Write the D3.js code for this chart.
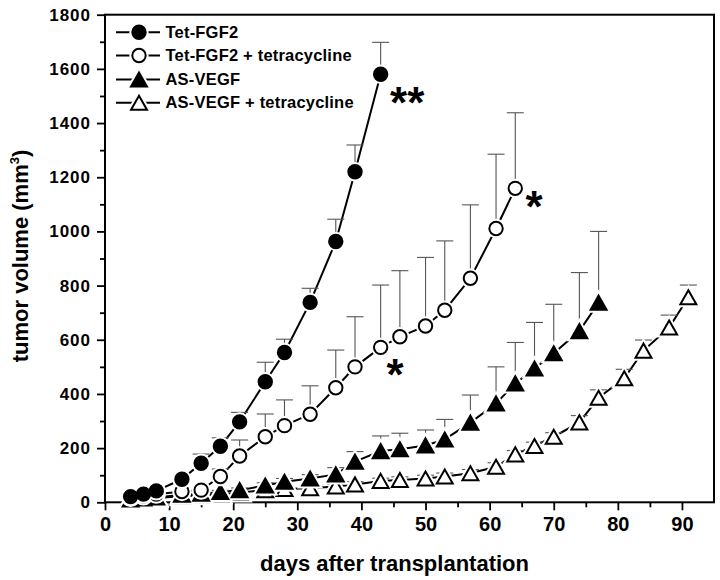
<!DOCTYPE html>
<html>
<head>
<meta charset="utf-8">
<script src="https://cdn.jsdelivr.net/npm/d3@7"></script>
<style>
  html, body { margin: 0; padding: 0; background: #fff; }
  svg { display: block; font-family: "Liberation Sans", Arial, Helvetica, sans-serif; font-weight: bold; }
</style>
</head>
<body>
<svg id="chart" width="720" height="580"></svg>
<script>
// ---------------- data ----------------
const seriesNames = ["Tet-FGF2", "Tet-FGF2 + tetracycline", "AS-VEGF", "AS-VEGF + tetracycline"];

const daysTetFGF2 = [4, 6, 8, 12, 15, 18, 21, 25, 28, 32, 36, 39, 43];
const volTetFGF2  = [21, 30, 42, 85, 144, 207, 297, 445, 553, 738, 963, 1220, 1580];
const sdTetFGF2   = [6, 6, 8, 12, 34, 31, 35, 72, 49, 52, 82, 99, 118];

const daysTetFGF2Tet = [4, 6, 8, 12, 15, 18, 21, 25, 28, 32, 36, 39, 43, 46, 50, 53, 57, 61, 64];
const volTetFGF2Tet  = [18, 24, 30, 40, 45, 95, 171, 242, 283, 325, 423, 500, 572, 611, 651, 709, 827, 1011, 1159];
const sdTetFGF2Tet   = [4, 4, 5, 8, 13, 28, 59, 84, 95, 105, 139, 185, 230, 244, 253, 256, 271, 274, 279];

const daysASVEGF = [4, 6, 8, 12, 15, 18, 21, 25, 28, 32, 36, 39, 43, 46, 50, 53, 57, 61, 64, 67, 70, 74, 77];
const volASVEGF  = [10, 14, 18, 28, 32, 38, 45, 62, 76, 88, 103, 150, 189, 196, 210, 232, 294, 365, 439, 494, 550, 632, 737];
const sdASVEGF   = [3, 3, 4, 5, 6, 6, 8, 10, 12, 14, 25, 37, 56, 59, 57, 74, 102, 135, 151, 170, 181, 216, 263];

const daysASVEGFTet = [4, 6, 8, 12, 15, 18, 21, 25, 28, 32, 36, 39, 43, 46, 50, 53, 57, 61, 64, 67, 70, 74, 77, 81, 84, 88, 91];
const volASVEGFTet  = [8, 12, 16, 22, 26, 30, 36, 45, 49, 52, 58, 66, 79, 82, 88, 95, 107, 131, 177, 208, 242, 295, 386, 458, 560, 645, 757];
const sdASVEGFTet   = [2, 2, 3, 3, 4, 4, 5, 6, 7, 8, 9, 10, 10, 12, 12, 13, 14, 15, 14, 14, 15, 25, 29, 33, 39, 46, 45];

const xTicks = [0, 10, 20, 30, 40, 50, 60, 70, 80, 90];
const xMinorTicks = [5, 15, 25, 35, 45, 55, 65, 75, 85];
const yTicks = [0, 200, 400, 600, 800, 1000, 1200, 1400, 1600, 1800];
const yMinorTicks = [100, 300, 500, 700, 900, 1100, 1300, 1500, 1700];

const xLabel = "days after transplantation";
const yLabel = "tumor volume (mm";
const yLabelSup = "3";

// significance marks: [text, anchor series index, anchor point index]
const sigMarks = [["**", 0, 12], ["*", 1, 18], ["*", 1, 13]];

// ---------------- layout ----------------
const W = 720, H = 580;
const m = { left: 105, right: 6, top: 14.7, bottom: 77.7 };
const svg = d3.select("#chart");

const x = d3.scaleLinear().domain([0, 95]).range([m.left, W - m.right]);
const y = d3.scaleLinear().domain([0, 1800]).range([H - m.bottom, m.top]);

const series = [
  { name: seriesNames[0], days: daysTetFGF2, vals: volTetFGF2, sd: sdTetFGF2, shape: "circle", filled: true },
  { name: seriesNames[1], days: daysTetFGF2Tet, vals: volTetFGF2Tet, sd: sdTetFGF2Tet, shape: "circle", filled: false },
  { name: seriesNames[2], days: daysASVEGF, vals: volASVEGF, sd: sdASVEGF, shape: "triangle", filled: true },
  { name: seriesNames[3], days: daysASVEGFTet, vals: volASVEGFTet, sd: sdASVEGFTet, shape: "triangle", filled: false }
].map(s => ({ ...s, pts: s.days.map((d, i) => ({ d, v: s.vals[i], sd: s.sd[i] })) }));

// ---------------- axes ----------------
const axisFont = "Liberation Sans, Arial, sans-serif";

const gx = svg.append("g").attr("transform", `translate(0,${y(0)})`);
gx.call(d3.axisBottom(x).tickValues(xTicks).tickSize(8).tickPadding(7).tickFormat(d3.format("d")));
const gxm = svg.append("g").attr("transform", `translate(0,${y(0)})`);
gxm.call(d3.axisBottom(x).tickValues(xMinorTicks).tickSize(5).tickFormat(""));
[gx, gxm].forEach(g => {
  g.select(".domain").remove();
  g.selectAll(".tick line").attr("stroke", "#000").attr("stroke-width", 1.8);
});
gx.selectAll(".tick text").attr("font-size", 20).attr("font-weight", "bold").attr("fill", "#000")
  .attr("font-family", axisFont);

const gy = svg.append("g").attr("transform", `translate(${x(0)},0)`);
gy.call(d3.axisLeft(y).tickValues(yTicks).tickSize(8).tickPadding(6).tickFormat(d3.format("d")));
const gym = svg.append("g").attr("transform", `translate(${x(0)},0)`);
gym.call(d3.axisLeft(y).tickValues(yMinorTicks).tickSize(5).tickFormat(""));
[gy, gym].forEach(g => {
  g.select(".domain").remove();
  g.selectAll(".tick line").attr("stroke", "#000").attr("stroke-width", 1.8);
});
gy.selectAll(".tick text").attr("font-size", 17).attr("font-weight", "bold").attr("fill", "#000")
  .attr("font-family", axisFont).attr("letter-spacing", 1);

// frame
svg.append("rect")
  .attr("x", x(0)).attr("y", y(1800))
  .attr("width", x(95) - x(0)).attr("height", y(0) - y(1800))
  .attr("fill", "none").attr("stroke", "#000").attr("stroke-width", 2);

// axis titles
svg.append("text")
  .attr("x", 394.5).attr("y", 571)
  .attr("text-anchor", "middle").attr("font-size", 22).attr("font-weight", "bold")
  .text(xLabel);

const yt = svg.append("text")
  .attr("transform", `translate(28,256) rotate(-90)`)
  .attr("text-anchor", "middle").attr("font-size", 22).attr("font-weight", "bold");
yt.append("tspan").text(yLabel);
yt.append("tspan").attr("font-size", 13).attr("dy", -9).text(yLabelSup);
yt.append("tspan").attr("dy", 9).text(")");

// ---------------- marks ----------------
function markerPath(shape, size) {
  if (shape === "circle") {
    const r = size;
    return `M${-r},0A${r},${r},0,1,1,${r},0A${r},${r},0,1,1,${-r},0Z`;
  }
  const w = size * 2.1, h = size * 1.85;
  return `M0,${-h / 2}L${w / 2},${h / 2}L${-w / 2},${h / 2}Z`;
}

const plot = svg.append("g");
const line = d3.line().x(p => x(p.d)).y(p => y(p.v));

// lines
series.forEach(s => {
  plot.append("path").datum(s.pts).attr("d", line)
    .attr("fill", "none").attr("stroke", "#000").attr("stroke-width", 2);
});

// error bars (upper only)
const capW = 8.5;
series.forEach(s => {
  const g = plot.append("g").attr("stroke", "#555").attr("stroke-width", 1.1);
  g.selectAll("line.v").data(s.pts).join("line").attr("class", "v")
    .attr("x1", p => x(p.d)).attr("x2", p => x(p.d))
    .attr("y1", p => y(p.v)).attr("y2", p => y(p.v + p.sd));
  g.selectAll("line.c").data(s.pts).join("line").attr("class", "c")
    .attr("x1", p => x(p.d) - capW).attr("x2", p => x(p.d) + capW)
    .attr("y1", p => y(p.v + p.sd)).attr("y2", p => y(p.v + p.sd));
});

// markers with white halo (gap in connecting lines)
const markerSize = { circle: 6.7, triangle: 7.6 };
[3, 2, 1, 0].forEach(si => {
  const s = series[si];
  const d = markerPath(s.shape, markerSize[s.shape]);
  const g = plot.append("g");
  g.selectAll("path.halo").data(s.pts).join("path").attr("class", "halo")
    .attr("d", d).attr("transform", p => `translate(${x(p.d)},${y(p.v)})`)
    .attr("fill", "#fff").attr("stroke", "#fff").attr("stroke-width", 6);
  g.selectAll("path.mk").data(s.pts).join("path").attr("class", "mk")
    .attr("d", d).attr("transform", p => `translate(${x(p.d)},${y(p.v)})`)
    .attr("fill", s.filled ? "#000" : "#fff").attr("stroke", "#000").attr("stroke-width", 2);
});

// significance stars: offset of star centre from its anchor point (px)
const starOffsets = [[27, 20.7], [19.3, 11.2], [-4.4, 30.2]];
sigMarks.forEach((mk, i) => {
  const s = series[mk[1]], p = s.pts[mk[2]];
  const t = svg.append("text").attr("font-size", 44).attr("font-weight", "bold").text(mk[0]);
  t.attr("x", 0).attr("y", 0);
  const bb = t.node().getBBox();
  const cx = x(p.d) + starOffsets[i][0], cy = y(p.v) + starOffsets[i][1];
  t.attr("x", cx - (bb.x + bb.width / 2)).attr("y", cy - (bb.y + bb.height * 0.35));
});

// ---------------- legend ----------------
const legend = svg.append("g");
const legBase = [37.7, 61, 85, 108.3];
series.forEach((s, i) => {
  const cy = legBase[i] - 5.5;
  const g = legend.append("g");
  g.append("line").attr("x1", 116).attr("x2", 160).attr("y1", cy).attr("y2", cy)
    .attr("stroke", "#000").attr("stroke-width", 2);
  g.append("path").attr("d", markerPath(s.shape, markerSize[s.shape]))
    .attr("transform", `translate(139,${cy})`)
    .attr("fill", "#fff").attr("stroke", "#fff").attr("stroke-width", 6);
  g.append("path").attr("d", markerPath(s.shape, markerSize[s.shape]))
    .attr("transform", `translate(139,${cy})`)
    .attr("fill", s.filled ? "#000" : "#fff").attr("stroke", "#000").attr("stroke-width", 2);
  g.append("text").attr("x", 165.5).attr("y", legBase[i])
    .attr("font-size", 16.5).attr("font-weight", "bold").attr("letter-spacing", 0.2).text(s.name);
});
</script>
</body>
</html>
